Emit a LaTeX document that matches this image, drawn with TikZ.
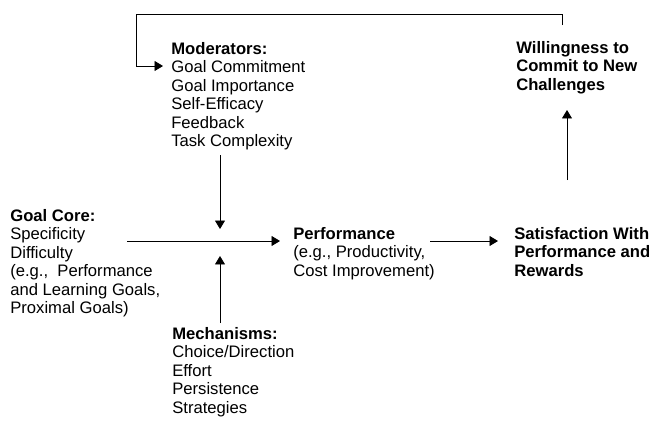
\documentclass[tikz,border=0pt]{standalone}
\usepackage{fontspec}
\setmainfont{Liberation Sans}
\usetikzlibrary{arrows.meta,positioning}

\begin{document}
\begin{tikzpicture}[x=0.649pt, y=-0.649pt,
    box/.style={align=left, anchor=north west, inner sep=0pt,
        font=\fontsize{10.8}{12}\selectfont},
    arr/.style={line width=0.6pt, -{Triangle[width=6.5pt,length=5.5pt]}}]
\useasboundingbox (0,0) rectangle (649,421);
% blocks
\node[box] (mod) at (171,42) {\textbf{Moderators:}\\Goal Commitment\\Goal Importance\\Self-Efficacy\\Feedback\\Task Complexity};
\node[box] (will) at (516,41) {\textbf{Willingness to}\\\textbf{Commit to New}\\\textbf{Challenges}};
\node[box] (goal) at (10,209) {\textbf{Goal Core:}\\Specificity\\Difficulty\\(e.g.,\ \ Performance\\and Learning Goals,\\Proximal Goals)};
\node[box] (perf) at (293,227) {\textbf{Performance}\\(e.g., Productivity,\\Cost Improvement)};
\node[box] (sat) at (514,227) {\textbf{Satisfaction With}\\\textbf{Performance and}\\\textbf{Rewards}};
\node[box] (mech) at (172,327) {\textbf{Mechanisms:}\\Choice/Direction\\Effort\\Persistence\\Strategies};
% arrow ends
\coordinate (gcout) at (127,241);
\coordinate (pin) at (280,241);
\coordinate (mout) at (220,155);
\coordinate (min) at (220,229);
\coordinate (kout) at (220,323);
\coordinate (kin) at (220,256);
\coordinate (pout) at (430,241);
\coordinate (sin) at (498,241);
\coordinate (sout) at (567,180);
\coordinate (win) at (567,110);
\coordinate (fb) at (562,25);
\coordinate (loop) at (136,14);
\coordinate (modin) at (163,66);
% connectors
\draw[arr] (gcout) -- (pin);
\draw[arr] (mout) -- (min);
\draw[arr] (kout) -- (kin);
\draw[arr] (pout) -- (sin);
\draw[arr] (sout) -- (win);
\draw[arr] (fb) |- (loop) |- (modin);
\end{tikzpicture}
\end{document}
